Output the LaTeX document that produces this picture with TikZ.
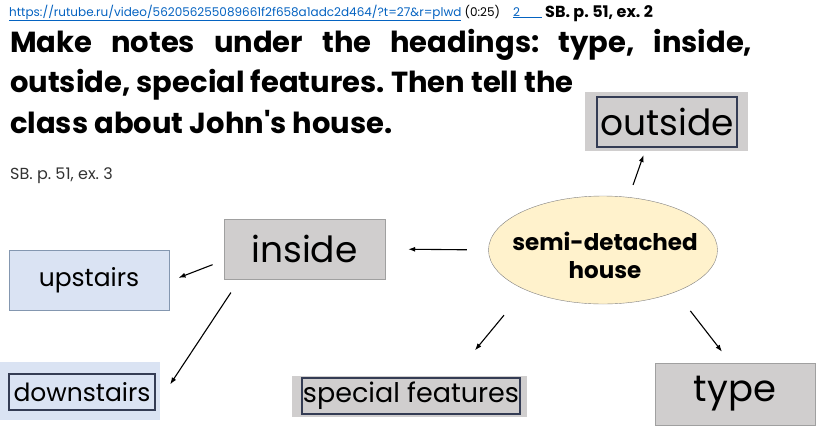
\documentclass[tikz,border=0pt]{standalone}
\usepackage{fontspec}
\setmainfont{Poppins}
\usetikzlibrary{shapes.geometric,arrows.meta}
\definecolor{boxgray}{RGB}{208,206,206}
\definecolor{boxline}{RGB}{160,160,160}
\definecolor{paleblue}{RGB}{218,227,243}
\definecolor{blueline}{RGB}{132,151,176}
\definecolor{navy}{RGB}{52,60,84}
\definecolor{cream}{RGB}{255,242,204}
\definecolor{linkblue}{RGB}{5,99,193}
\def\connect{house/180/inside/0/21.5/23, house/64/outside/234/13/4, house/207/special/25/33/33, house/330/type/98/24/14, inside/188.5/upstairs/-1/12/10, inside/205/downstairs/-6/16/18}
\tikzstyle{gray box}=[rectangle, fill=boxgray, inner sep=0pt]
\tikzstyle{blue box}=[rectangle, fill=paleblue, inner sep=0pt]
\tikzstyle{frame}=[rectangle, draw=navy, line width=1.2pt, inner sep=0pt]
\tikzstyle{label}=[font=\fontsize{25}{28}\selectfont]
\tikzstyle{big label}=[font=\fontsize{36}{40}\selectfont]
\tikzstyle{heading}=[anchor=base west, inner sep=0pt, font=\fontsize{29}{32}\bfseries\selectfont]
\tikzstyle{edge}=[draw, line width=1.1pt, -{Latex[length=7pt,width=5pt]}]

\begin{document}
\frenchspacing
\begin{tikzpicture}[x=1pt, y=-1pt]
  \useasboundingbox (0,0) rectangle (816,434);
  \fill[white] (0,0) rectangle (816,434);

  % Top line
  \node[anchor=base west, inner sep=0pt, font=\fontsize{12}{14}\selectfont] (link) at (9,16)
    {\textcolor{linkblue}{\underline{https://rutube.ru/video/562056255089661f2f658a1adc2d464/?t=27\&r=plwd}} (0:25)};
  \node[anchor=base west, inner sep=0pt, font=\fontsize{12}{14}\selectfont] (num) at (513,16)
    {\textcolor{linkblue}{\underline{2\hspace{22pt}}}};
  \node[anchor=base west, inner sep=0pt, font=\fontsize{16}{18}\bfseries\selectfont] (ref) at (545,17)
    {SB. p. 51, ex. 2};

  % Heading
  \node[heading] (line1) at (10,52)
    {\makebox[742pt][s]{Make notes under the headings: type, inside,}};
  \node[heading] (line2) at (10,92)
    {outside, special features. Then tell the};
  \node[heading] (line3) at (10,133)
    {class about John\textquotesingle s house.};
  \node[anchor=base west, inner sep=0pt, text=black!80, font=\fontsize{16}{18}\selectfont] (ex3) at (10,179)
    {SB. p. 51, ex. 3};

  % Centre
  \node[ellipse, fill=cream, draw=gray, minimum width=229pt, minimum height=108pt, inner sep=0pt] (house) at (603,250) {};
  \node[align=center, inner sep=0pt, font=\fontsize{23}{28}\bfseries\selectfont] () at (605,255) {semi-detached\\house};

  % Boxes
  \node[gray box, minimum width=163pt, minimum height=59pt] (outside) at (666.5,121.5) {};
  \node[frame, big label, minimum width=140pt, minimum height=50pt] () at (667,122) {outside};

  \node[gray box, draw=boxline, big label, minimum width=161pt, minimum height=60pt] (inside) at (304.5,249) {inside};

  \node[blue box, draw=blueline, label, minimum width=160pt, minimum height=60pt] (upstairs) at (89,280) {upstairs};

  \node[blue box, minimum width=160pt, minimum height=58pt] (downstairs) at (80,391) {};
  \node[frame, label, minimum width=146pt, minimum height=36pt] () at (82,392) {downstairs};

  \node[gray box, minimum width=235pt, minimum height=41pt] (special) at (409.5,396.5) {};
  \node[frame, font=\fontsize{27}{30}\selectfont, minimum width=218pt, minimum height=36pt] () at (411,396) {special features};

  \node[gray box, draw=boxline, font=\fontsize{37}{40}\selectfont, minimum width=160pt, minimum height=62pt] (type) at (735,394) {type};

  % Arrows
  \foreach \source/\a/\sink/\b/\p/\q in \connect {
    \path[edge, shorten <=\p pt, shorten >=\q pt] (\source.\a) -- (\sink.\b);
    }
\end{tikzpicture}
\end{document}
